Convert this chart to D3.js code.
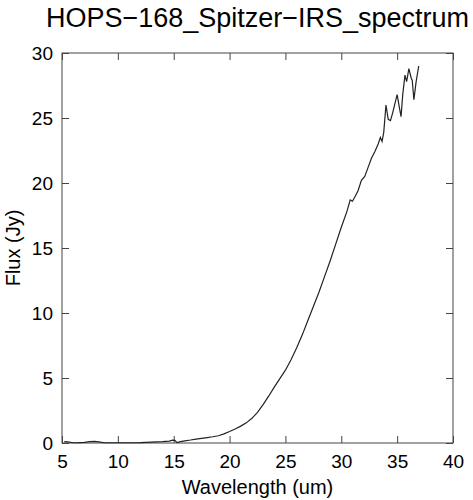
<!DOCTYPE html>
<html>
<head>
<meta charset="utf-8">
<script src="https://cdn.jsdelivr.net/npm/d3@7"></script>
<style>
  body { margin: 0; background: #fff; }
  svg { font-family: "Liberation Sans", Arial, sans-serif; }
</style>
</head>
<body>
<svg id="chart" width="473" height="500"></svg>
<script>
// spectrum
const wavelength = [5.2, 5.5, 6.0, 6.5, 7.0, 7.5, 7.9, 8.3, 8.8, 9.5, 10, 11, 12, 13, 14, 14.6, 14.9, 15.1, 15.3, 15.6,
    16, 16.5, 17, 17.5, 18, 18.5, 19, 19.5, 20, 20.5, 21, 21.5, 22, 22.5, 23, 23.5, 24, 24.5, 25, 25.5,
    26, 26.5, 27, 27.5, 28, 28.5, 29, 29.5, 30, 30.5, 30.8, 31.0, 31.2, 31.5, 31.8, 32.1, 32.4, 32.7, 33.0, 33.3,
    33.5, 33.65, 33.8, 34.0, 34.2, 34.4, 34.6, 34.8, 35.0, 35.2, 35.35, 35.5, 35.7, 35.85, 36.05, 36.25, 36.35, 36.5, 36.7, 36.93];
const flux = [0.1, 0.08, 0.02, 0.03, 0.05, 0.1, 0.13, 0.08, 0.02, 0.02, 0.02, 0.02, 0.03, 0.06, 0.1, 0.15, 0.22, 0.2, 0.03, 0.1,
    0.17, 0.23, 0.3, 0.36, 0.42, 0.48, 0.56, 0.7, 0.88, 1.08, 1.3, 1.55, 1.9, 2.35, 2.95, 3.6, 4.3, 4.95, 5.6, 6.4,
    7.3, 8.3, 9.4, 10.5, 11.6, 12.8, 14.0, 15.3, 16.6, 17.8, 18.7, 18.6, 18.9, 19.4, 20.2, 20.5, 21.2, 21.9, 22.4, 23.0,
    23.5, 23.2, 23.9, 26.0, 24.9, 24.8, 25.4, 26.1, 26.8, 25.8, 25.1, 26.8, 28.3, 27.8, 28.8, 28.1, 27.9, 26.4, 27.8, 29.0];

const xTicks = [5, 10, 15, 20, 25, 30, 35, 40];
const yTicks = [0, 5, 10, 15, 20, 25, 30];

const margin = {top: 53, right: 20, bottom: 57, left: 62};
const width = 473 - margin.left - margin.right;
const height = 500 - margin.top - margin.bottom;

let svg = d3.select("#chart");
let g = svg.append("g")
    .attr("transform", "translate(" + margin.left + "," + margin.top + ")");

let x = d3.scaleLinear().domain([5, 40]).range([0, width]);
let y = d3.scaleLinear().domain([0, 30]).range([height, 0]);

// ticks point inward on all four sides
let tk = 7;
let axisStyle = sel => {
    sel.select(".domain").remove();
    sel.selectAll("line").attr("stroke", "#444").attr("stroke-width", 1);
    sel.selectAll("text").attr("fill", "#000").style("font-size", "19px");
};

g.append("g")
    .attr("transform", "translate(0," + height + ")")
    .call(d3.axisBottom(x).tickValues(xTicks).tickSize(-tk).tickPadding(tk + 5))
    .call(axisStyle);
g.append("g")
    .call(d3.axisTop(x).tickValues(xTicks).tickSize(-tk).tickFormat(""))
    .call(axisStyle);
g.append("g")
    .call(d3.axisLeft(y).tickValues(yTicks).tickSize(-tk).tickPadding(tk + 2))
    .call(axisStyle);
g.append("g")
    .attr("transform", "translate(" + width + ",0)")
    .call(d3.axisRight(y).tickValues(yTicks).tickSize(-tk).tickFormat(""))
    .call(axisStyle);

g.append("rect")
    .attr("width", width)
    .attr("height", height)
    .attr("fill", "none")
    .attr("stroke", "#444")
    .attr("stroke-width", 1);

let pts = wavelength.map((w, i) => [w, flux[i]]);
let line = d3.line().x(d => x(d[0])).y(d => y(d[1]));

g.append("path")
    .datum(pts)
    .attr("d", line)
    .attr("fill", "none")
    .attr("stroke", "#222")
    .attr("stroke-width", 1.2);

svg.append("text")
    .attr("x", margin.left + width / 2)
    .attr("y", 27)
    .attr("text-anchor", "middle")
    .style("font-size", "27px")
    .text("HOPS\u2212168_Spitzer\u2212IRS_spectrum");

svg.append("text")
    .attr("x", margin.left + width / 2)
    .attr("y", 494)
    .attr("text-anchor", "middle")
    .style("font-size", "20px")
    .text("Wavelength (um)");

svg.append("text")
    .attr("transform", "translate(20," + (margin.top + height / 2) + ") rotate(-90)")
    .attr("text-anchor", "middle")
    .style("font-size", "20px")
    .text("Flux (Jy)");
</script>
</body>
</html>
